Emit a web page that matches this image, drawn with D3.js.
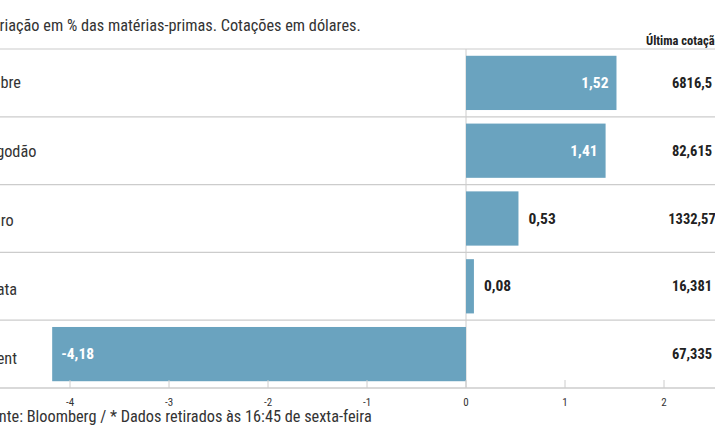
<!DOCTYPE html><html><head><meta charset="utf-8">
<script src="https://cdn.jsdelivr.net/npm/d3@7"></script>
<style>body{margin:0;background:#fff}text{font-family:"Liberation Sans Narrow","Roboto Condensed","Open Sans",sans-serif}</style>
</head><body><svg id="c" width="715" height="445"></svg>
<script>
const categories=["Cobre","Algodão","Ouro","Prata","Brent"];
const changes=[1.52,1.41,0.53,0.08,-4.18];
const quotes=["6816,5","82,615","1332,57","16,381","67,335"];
const ticks=[-4,-3,-2,-1,0,1,2,3];
const svg=d3.select("#c");
const x=d3.scaleLinear().domain([-4,1]).range([70,565]);
const y=d3.scaleBand().domain(categories).range([49,388]).paddingInner(0.2).paddingOuter(0.1);
const fmt=v=>d3.format(".2f")(v).replace(".",",").replace("−","-");
const rowH=(388-49)/categories.length;
svg.append("text").attr("x",-17).attr("y",31).attr("font-size",16.3).attr("fill","#333").text("Variação em % das matérias-primas. Cotações em dólares.");
svg.append("text").attr("x",646).attr("y",45).attr("font-size",12.5).attr("font-weight","bold").attr("fill","#222").text("Última cotação*");
categories.forEach((c,i)=>{
  svg.append("line").attr("x1",0).attr("x2",715).attr("y1",49+i*rowH).attr("y2",49+i*rowH).attr("stroke","#ccc").attr("stroke-width",1.2);
});
svg.append("line").attr("x1",x(0)).attr("x2",x(0)).attr("y1",49).attr("y2",388).attr("stroke","#ccc");
svg.selectAll("rect.b").data(categories).enter().append("rect")
 .attr("x",(d,i)=>x(Math.min(0,changes[i]))).attr("width",(d,i)=>Math.abs(x(changes[i])-x(0)))
 .attr("y",d=>y(d)).attr("height",y.bandwidth()).attr("fill","#6aa3bf");
categories.forEach((c,i)=>{
  const v=changes[i],cy=y(c)+y.bandwidth()/2;
  svg.append("text").attr("x",-17).attr("y",cy+5+i*1.2).attr("font-size",16.3).attr("fill","#333").text(c);
  const big=Math.abs(x(v)-x(0))>80;
  let t=svg.append("text").attr("y",cy+5).attr("font-size",15.5).attr("font-weight","bold").text(fmt(v));
  if(big){ if(v>0) t.attr("x",x(v)-8).attr("text-anchor","end").attr("fill","#fff"); else t.attr("x",x(v)+9).attr("fill","#fff");}
  else t.attr("x",x(v)+10).attr("fill","#222");
  svg.append("text").attr("x",692).attr("y",cy+5).attr("text-anchor","middle").attr("font-size",14.5).attr("font-weight","bold").attr("fill","#222").text(quotes[i]);
});
const ax=svg.append("g").attr("transform","translate(0,388)");
ax.append("line").attr("x1",0).attr("x2",715).attr("stroke","#ccc").attr("stroke-width",1.5);
ticks.forEach(t=>{
  ax.append("line").attr("x1",x(t)).attr("x2",x(t)).attr("y1",-8).attr("y2",0).attr("stroke","#ccc");
  ax.append("text").attr("x",x(t)).attr("y",18).attr("text-anchor","middle").attr("font-size",11).attr("fill","#333").text(t);
});
svg.append("text").attr("x",-17).attr("y",422).attr("font-size",16.3).attr("fill","#333").text("Fonte: Bloomberg / * Dados retirados às 16:45 de sexta-feira");
</script></body></html>
